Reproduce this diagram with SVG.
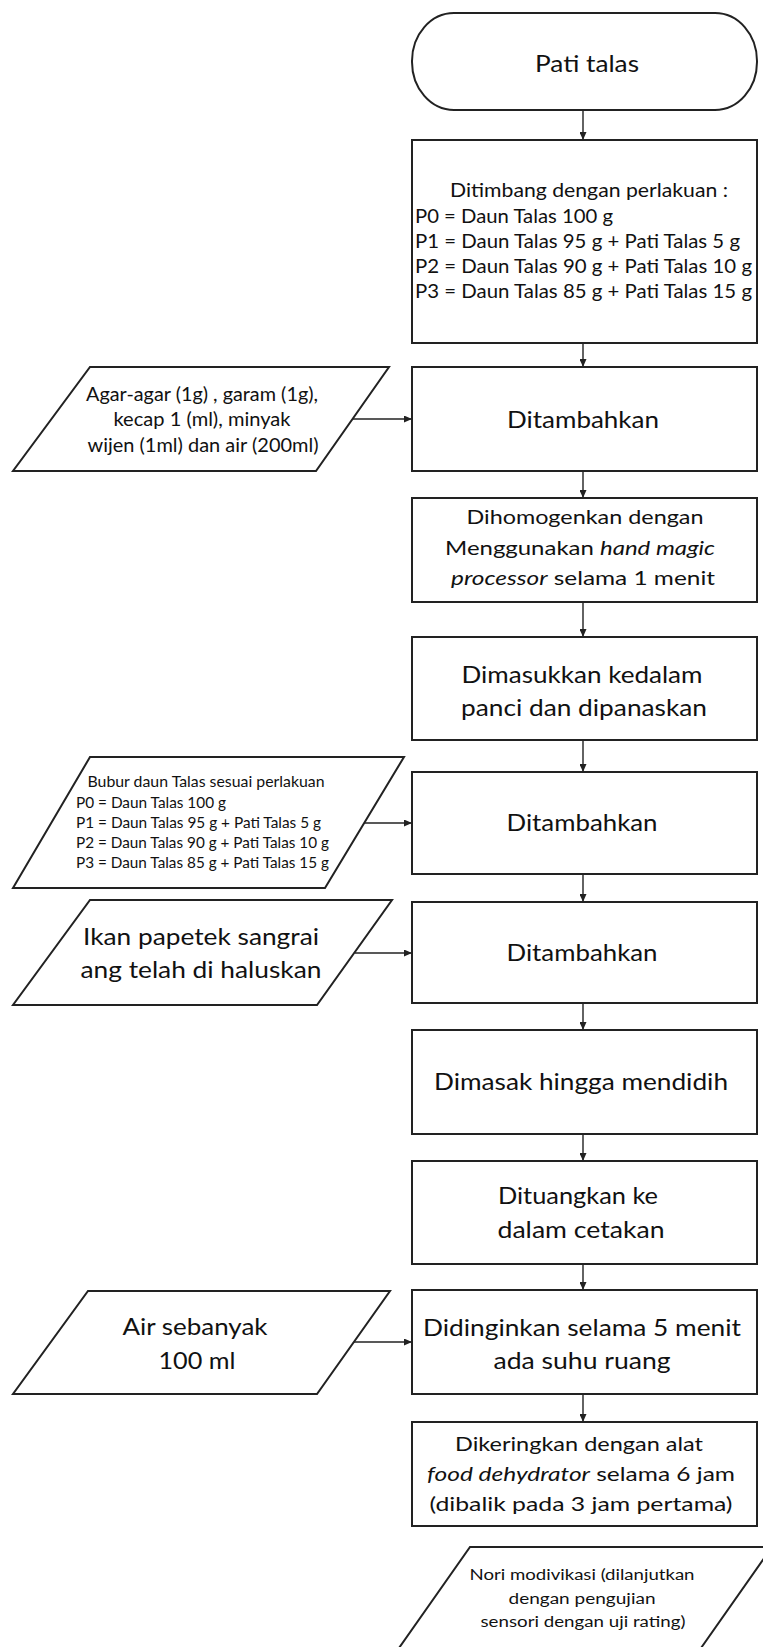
<svg xmlns="http://www.w3.org/2000/svg" width="763" height="1648" viewBox="0 0 763 1648">
<defs>
<style>
.box{fill:#fff;stroke:#222;stroke-width:2}
.con{stroke:#222;stroke-width:1.4;fill:none;marker-end:url(#ah)}
text{font-family:Lato,"Liberation Sans",sans-serif;fill:#111}
.c{text-anchor:middle}
.l{text-anchor:start}
.big{font-size:23px}
.mid{font-size:20px}
.p1{font-size:18.5px}
.p2{font-size:16px}
.sm{font-size:14.5px}
.it{font-style:italic}
</style>
<marker id="ah" markerUnits="userSpaceOnUse" markerWidth="8" markerHeight="7" refX="8" refY="3.5" orient="auto">
<path d="M0,0 L8,3.5 L0,7 z" fill="#222"/>
</marker>
</defs>
<rect width="763" height="1648" fill="#fff"/>

<g id="connectors">
<line class="con" x1="583" y1="110" x2="583" y2="140"/>
<line class="con" x1="583" y1="343" x2="583" y2="367"/>
<line class="con" x1="583" y1="471" x2="583" y2="498"/>
<line class="con" x1="583" y1="602" x2="583" y2="637"/>
<line class="con" x1="583" y1="740" x2="583" y2="772"/>
<line class="con" x1="583" y1="874" x2="583" y2="902"/>
<line class="con" x1="583" y1="1003" x2="583" y2="1030"/>
<line class="con" x1="583" y1="1134" x2="583" y2="1161"/>
<line class="con" x1="583" y1="1264" x2="583" y2="1290"/>
<line class="con" x1="583" y1="1394" x2="583" y2="1422"/>
<line class="con" x1="353" y1="419" x2="412" y2="419"/>
<line class="con" x1="364" y1="823" x2="412" y2="823"/>
<line class="con" x1="355" y1="953" x2="412" y2="953"/>
<line class="con" x1="354" y1="1342" x2="412" y2="1342"/>
</g>

<g id="start">
<rect class="box" x="412" y="13" width="345" height="97" rx="42" ry="48"/>
<text class="c big" x="587" y="72" textLength="104" lengthAdjust="spacingAndGlyphs">Pati talas</text>
</g>

<g id="ditimbang">
<rect class="box" x="412" y="140" width="345" height="203"/>
<text class="c mid" x="589" y="197" textLength="278" lengthAdjust="spacingAndGlyphs">Ditimbang dengan perlakuan :</text>
<text class="l mid" x="415" y="223" textLength="198" lengthAdjust="spacingAndGlyphs">P0 = Daun Talas 100 g</text>
<text class="l mid" x="415" y="248" textLength="325" lengthAdjust="spacingAndGlyphs">P1 = Daun Talas 95 g + Pati Talas 5 g</text>
<text class="l mid" x="415" y="273" textLength="337" lengthAdjust="spacingAndGlyphs">P2 = Daun Talas 90 g + Pati Talas 10 g</text>
<text class="l mid" x="415" y="298" textLength="337" lengthAdjust="spacingAndGlyphs">P3 = Daun Talas 85 g + Pati Talas 15 g</text>
</g>

<g id="in1">
<polygon class="box" points="90,367 389,367 316,471 13,471"/>
<text class="c p1" x="202" y="401" textLength="232" lengthAdjust="spacingAndGlyphs">Agar-agar (1g) , garam (1g),</text>
<text class="c p1" x="202" y="426" textLength="177" lengthAdjust="spacingAndGlyphs">kecap 1 (ml), minyak</text>
<text class="c p1" x="203" y="452" textLength="231" lengthAdjust="spacingAndGlyphs">wijen (1ml) dan air (200ml)</text>
</g>

<g id="ditambahkan1">
<rect class="box" x="412" y="367" width="345" height="104"/>
<text class="c big" x="583" y="428" textLength="152" lengthAdjust="spacingAndGlyphs">Ditambahkan</text>
</g>

<g id="dihomogenkan">
<rect class="box" x="412" y="498" width="345" height="104"/>
<text class="c mid" x="585" y="524" textLength="237" lengthAdjust="spacingAndGlyphs">Dihomogenkan dengan</text>
<text class="c mid" x="580" y="555" textLength="270" lengthAdjust="spacingAndGlyphs">Menggunakan <tspan class="it">hand magic</tspan></text>
<text class="c mid" x="583" y="585" textLength="264" lengthAdjust="spacingAndGlyphs"><tspan class="it">processor</tspan> selama 1 menit</text>
</g>

<g id="dimasukkan">
<rect class="box" x="412" y="637" width="345" height="103"/>
<text class="c big" x="582" y="683" textLength="241" lengthAdjust="spacingAndGlyphs">Dimasukkan kedalam</text>
<text class="c big" x="584" y="716" textLength="246" lengthAdjust="spacingAndGlyphs">panci dan dipanaskan</text>
</g>

<g id="in2">
<polygon class="box" points="90,757 404,757 325,888 13,888"/>
<text class="c p2" x="206" y="787" textLength="237" lengthAdjust="spacingAndGlyphs">Bubur daun Talas sesuai perlakuan</text>
<text class="l p2" x="76" y="808" textLength="150" lengthAdjust="spacingAndGlyphs">P0 = Daun Talas 100 g</text>
<text class="l p2" x="76" y="828" textLength="245" lengthAdjust="spacingAndGlyphs">P1 = Daun Talas 95 g + Pati Talas 5 g</text>
<text class="l p2" x="76" y="848" textLength="253" lengthAdjust="spacingAndGlyphs">P2 = Daun Talas 90 g + Pati Talas 10 g</text>
<text class="l p2" x="76" y="868" textLength="253" lengthAdjust="spacingAndGlyphs">P3 = Daun Talas 85 g + Pati Talas 15 g</text>
</g>

<g id="ditambahkan2">
<rect class="box" x="412" y="772" width="345" height="102"/>
<text class="c big" x="582" y="831" textLength="151" lengthAdjust="spacingAndGlyphs">Ditambahkan</text>
</g>

<g id="in3">
<polygon class="box" points="90,900 392,900 317,1005 13,1005"/>
<text class="c big" x="201" y="945" textLength="236" lengthAdjust="spacingAndGlyphs">Ikan papetek sangrai</text>
<text class="c big" x="201" y="978" textLength="241" lengthAdjust="spacingAndGlyphs">ang telah di haluskan</text>
</g>

<g id="ditambahkan3">
<rect class="box" x="412" y="902" width="345" height="101"/>
<text class="c big" x="582" y="961" textLength="151" lengthAdjust="spacingAndGlyphs">Ditambahkan</text>
</g>

<g id="dimasak">
<rect class="box" x="412" y="1030" width="345" height="104"/>
<text class="c big" x="581" y="1090" textLength="294" lengthAdjust="spacingAndGlyphs">Dimasak hingga mendidih</text>
</g>

<g id="dituangkan">
<rect class="box" x="412" y="1161" width="345" height="103"/>
<text class="c big" x="578" y="1204" textLength="160" lengthAdjust="spacingAndGlyphs">Dituangkan ke</text>
<text class="c big" x="581" y="1238" textLength="167" lengthAdjust="spacingAndGlyphs">dalam cetakan</text>
</g>

<g id="in4">
<polygon class="box" points="88,1291 390,1291 317,1394 13,1394"/>
<text class="c big" x="195" y="1335" textLength="145" lengthAdjust="spacingAndGlyphs">Air sebanyak</text>
<text class="c big" x="197" y="1369" textLength="77" lengthAdjust="spacingAndGlyphs">100 ml</text>
</g>

<g id="didinginkan">
<rect class="box" x="412" y="1290" width="345" height="104"/>
<text class="c big" x="582" y="1336" textLength="318" lengthAdjust="spacingAndGlyphs">Didinginkan selama 5 menit</text>
<text class="c big" x="582" y="1369" textLength="177" lengthAdjust="spacingAndGlyphs">ada suhu ruang</text>
</g>

<g id="dikeringkan">
<rect class="box" x="412" y="1422" width="345" height="104"/>
<text class="c mid" x="579" y="1451" textLength="248" lengthAdjust="spacingAndGlyphs">Dikeringkan dengan alat</text>
<text class="c mid" x="581" y="1481" textLength="308" lengthAdjust="spacingAndGlyphs"><tspan class="it">food dehydrator</tspan> selama 6 jam</text>
<text class="c mid" x="581" y="1511" textLength="303" lengthAdjust="spacingAndGlyphs">(dibalik pada 3 jam pertama)</text>
</g>

<g id="nori">
<polygon class="box" points="470,1547 772,1547 701,1648 399,1648"/>
<rect x="380" y="1647" width="400" height="3" fill="#fff"/>
<text class="c sm" x="582" y="1580" textLength="225" lengthAdjust="spacingAndGlyphs">Nori modivikasi (dilanjutkan</text>
<text class="c sm" x="582" y="1604" textLength="147" lengthAdjust="spacingAndGlyphs">dengan pengujian</text>
<text class="c sm" x="583" y="1627" textLength="205" lengthAdjust="spacingAndGlyphs">sensori dengan uji rating)</text>
</g>
</svg>
